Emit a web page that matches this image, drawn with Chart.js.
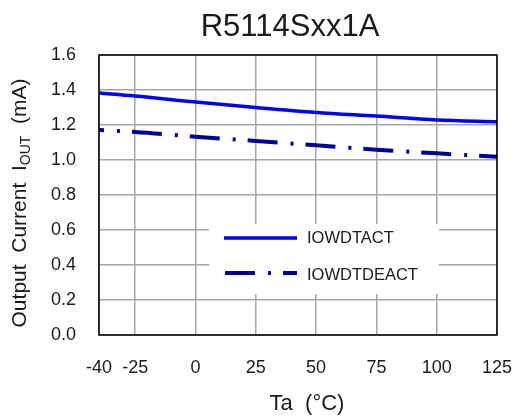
<!DOCTYPE html>
<html>
<head>
<meta charset="utf-8">
<script src="https://cdn.jsdelivr.net/npm/chart.js@4"></script>
<style>
  html, body { margin: 0; padding: 0; background: #fff; }
  #wrap { width: 514px; height: 417px; }
</style>
</head>
<body>
<div id="wrap"><canvas id="chart" width="514" height="417"></canvas></div>
<script>
const temps = [-40, -25, 0, 25, 50, 75, 100, 125];
const iowdtact = [1.383, 1.366, 1.331, 1.300, 1.272, 1.251, 1.229, 1.219];
const iowdtdeact = [1.171, 1.160, 1.133, 1.109, 1.084, 1.059, 1.038, 1.019];
const xTicks = [-40, -25, 0, 25, 50, 75, 100, 125];
const seriesNames = ['IOWDTACT', 'IOWDTDEACT'];

const FONT = '"Liberation Sans", Arial, sans-serif';
const TEXT = '#1a1a1a';
const DASHDOT = [30, 13, 3, 12];
const pts = vals => temps.map((t, i) => ({ x: t, y: vals[i] }));

// titles, plot frame and the boxed legend
const decor = {
    id: 'decor',
    afterDatasetsDraw(chart) {
        const { ctx, chartArea: a } = chart;
        ctx.save();
        ctx.strokeStyle = '#000';
        ctx.lineWidth = 1.5;
        ctx.strokeRect(a.left, a.top, a.right - a.left, a.bottom - a.top);

        // legend box
        ctx.fillStyle = '#fff';
        ctx.fillRect(209, 224, 230, 70);
        ctx.lineCap = 'butt';
        ctx.strokeStyle = '#0000ff';
        ctx.lineWidth = 3.5;
        ctx.beginPath(); ctx.moveTo(224, 238); ctx.lineTo(297, 238); ctx.stroke();
        ctx.strokeStyle = '#000099';
        ctx.lineWidth = 4;
        ctx.setLineDash(DASHDOT);
        ctx.beginPath(); ctx.moveTo(225, 273); ctx.lineTo(297, 273); ctx.stroke();
        ctx.setLineDash([]);
        ctx.fillStyle = TEXT;
        ctx.font = '16.5px ' + FONT;
        ctx.textAlign = 'left';
        ctx.textBaseline = 'alphabetic';
        ctx.fillText(seriesNames[0], 307, 243);
        ctx.fillText(seriesNames[1], 307, 280);

        // chart title
        ctx.font = '31px ' + FONT;
        ctx.textAlign = 'center';
        ctx.fillText('R5114Sxx1A', 290, 36);

        // x axis title
        ctx.font = '22px ' + FONT;
        ctx.fillText('Ta  (°C)', 307, 410);

        // y axis title with subscript
        const main = '21px ' + FONT, sub = '14px ' + FONT;
        const p1 = 'Output  Current  I', p2 = 'OUT', p3 = '  (mA)';
        ctx.font = main; const w1 = ctx.measureText(p1).width, w3 = ctx.measureText(p3).width;
        ctx.font = sub; const w2 = ctx.measureText(p2).width;
        const total = w1 + w2 + w3;
        ctx.translate(26, 203);
        ctx.rotate(-Math.PI / 2);
        ctx.textAlign = 'left';
        let x = -total / 2;
        ctx.font = main; ctx.fillText(p1, x, 0); x += w1;
        ctx.font = sub; ctx.fillText(p2, x, 4); x += w2;
        ctx.font = main; ctx.fillText(p3, x, 0);
        ctx.restore();
    }
};

new Chart(document.getElementById('chart').getContext('2d'), {
    type: 'line',
    data: {
        datasets: [
            {
                label: seriesNames[0],
                data: pts(iowdtact),
                borderColor: '#0000ff',
                borderWidth: 3.5,
                pointRadius: 0,
                cubicInterpolationMode: 'monotone'
            },
            {
                label: seriesNames[1],
                data: pts(iowdtdeact),
                borderColor: '#000099',
                borderWidth: 4,
                borderDash: DASHDOT,
                borderDashOffset: 25,
                pointRadius: 0,
                cubicInterpolationMode: 'monotone'
            }
        ]
    },
    options: {
        responsive: false,
        animation: false,
        layout: { padding: { top: 55, right: 17, left: 0, bottom: 0 } },
        plugins: { legend: { display: false }, tooltip: { enabled: false } },
        scales: {
            x: {
                type: 'linear',
                min: -40,
                max: 125,
                afterBuildTicks: s => { s.ticks = xTicks.map(v => ({ value: v })); },
                afterFit: s => { s.height = 417 - 335; s.paddingLeft = 0; s.paddingRight = 0; },
                ticks: { color: TEXT, font: { family: FONT, size: 18 }, padding: 22, maxRotation: 0, autoSkip: false },
                grid: { color: '#a6a6a6', lineWidth: 1.5, drawTicks: false },
                border: { display: false }
            },
            y: {
                min: 0,
                max: 1.6,
                afterFit: s => { s.width = 99; },
                ticks: { stepSize: 0.2, color: TEXT, font: { family: FONT, size: 18 }, padding: 23, callback: v => v.toFixed(1) },
                grid: { color: '#a6a6a6', lineWidth: 1.5, drawTicks: false },
                border: { display: false }
            }
        }
    },
    plugins: [decor]
});
</script>
</body>
</html>
